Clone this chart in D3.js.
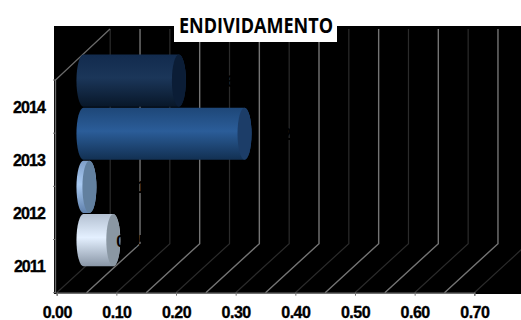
<!DOCTYPE html>
<html>
<head>
<meta charset="utf-8">
<script src="https://cdn.jsdelivr.net/npm/d3@7"></script>
<style>
html, body { margin: 0; padding: 0; background: #fff; }
svg { display: block; }
.tick text { font-family: "Liberation Sans", Arial, sans-serif; font-weight: bold; fill: #000; stroke: #000; stroke-width: 0.35px; }
</style>
</head>
<body>
<svg></svg>
<script>
var years = ["2014", "2013", "2012", "2011"];
var values = [0.16, 0.27, 0.01, 0.05];
var valueTicks = [0, 0.1, 0.2, 0.3, 0.4, 0.5, 0.6, 0.7];
var gridSteps = [0.05, 0.15, 0.25, 0.35, 0.45, 0.55, 0.65];
var title = "ENDIVIDAMENTO";

var width = 521;
var height = 320;
var depthX = 53.5;  // 奥行き
var depthY = 49;
var wallTop = 29;
var capRx = 7;

// 年ごとの円柱の色 [上, 中, 下, 端面]
var barColors = {
    "2014": ["#122b4e", "#1b3659", "#081729", "#0b1d36"],
    "2013": ["#1e4778", "#2b5d99", "#123052", "#1c3d68"],
    "2012": ["#7f9fc8", "#a9caf2", "#5f80ab", "#62809f"],
    "2011": ["#b4c1d2", "#e4f0ff", "#8996a6", "#8a97a3"]
};
// 値ラベルの横ずれ
var labelNudge = [25, 25, 25, 3];

var svg = d3.select("svg").attr("width", width).attr("height", height);

var xScale = d3.scaleLinear().domain([0, 0.7]).range([56.7, 474.3]);
var yScale = d3.scaleBand().domain(years).range([80, 292.7]);
var floorY = yScale.range()[1];

// 背景
svg.append("rect")
    .attr("x", 54).attr("y", 26)
    .attr("width", width - 54).attr("height", 268)
    .attr("fill", "#000");

// 目盛線（床と奥の壁）
function gridLine(v, color, w) {
    var x0 = xScale(v);
    svg.append("path")
        .attr("d", d3.line()([[x0, floorY], [x0 + depthX, floorY - depthY], [x0 + depthX, wallTop]]))
        .attr("fill", "none")
        .attr("stroke", color)
        .attr("stroke-width", w);
}
valueTicks.forEach(function(v) { gridLine(v, "#2b2b2b", 1.2); });
gridSteps.forEach(function(v) { gridLine(v, "#747474", 1.4); });

// 左の壁
svg.append("path")
    .attr("d", d3.line()([[55.5, floorY], [55.5, yScale.range()[0]], [55.5 + depthX + 1, wallTop]]))
    .attr("fill", "none")
    .attr("stroke", "#6a6a6a")
    .attr("stroke-width", 1.3);

// グラデーション
var defs = svg.append("defs");
years.forEach(function(year) {
    var c = barColors[year];
    var grad = defs.append("linearGradient")
        .attr("id", "bar" + year)
        .attr("x1", 0).attr("y1", 0).attr("x2", 0).attr("y2", 1);
    grad.append("stop").attr("offset", "0%").attr("stop-color", c[0]);
    grad.append("stop").attr("offset", "45%").attr("stop-color", c[1]);
    grad.append("stop").attr("offset", "100%").attr("stop-color", c[2]);
});

// 円柱
var bars = svg.append("g")
    .attr("transform", "translate(" + (depthX / 2) + "," + (-depthY / 2 - 1) + ")");

years.forEach(function(year, i) {
    var x0 = xScale(0);
    var x1 = xScale(values[i]);
    var top = yScale(year);
    var bottom = top + yScale.bandwidth() - 1;
    var ry = (bottom - top) / 2;

    bars.append("path")
        .attr("d", "M" + x0 + "," + top +
            "A" + capRx + "," + ry + " 0 0 0 " + x0 + "," + bottom +
            "L" + x1 + "," + bottom +
            "A" + capRx + "," + ry + " 0 0 0 " + x1 + "," + top + "Z")
        .attr("fill", "url(#bar" + year + ")");

    bars.append("ellipse")
        .attr("cx", x1)
        .attr("cy", (top + bottom) / 2)
        .attr("rx", capRx)
        .attr("ry", ry)
        .attr("fill", barColors[year][3]);
});

// 値ラベル（背景と同じ黒）
years.forEach(function(year, i) {
    svg.append("text")
        .attr("x", xScale(0) + depthX / 2 + xScale(values[i]) - xScale(0) + labelNudge[i])
        .attr("y", yScale(year) + yScale.bandwidth() / 2 - depthY / 2 + 5)
        .attr("font-family", "Liberation Sans, Arial, sans-serif")
        .attr("font-weight", "bold")
        .attr("font-size", 16)
        .attr("fill", "#000")
        .text(values[i].toFixed(2));
});

// 軸
var xAxis = svg.append("g")
    .attr("transform", "translate(0," + floorY + ")")
    .call(d3.axisBottom(xScale)
        .tickValues(valueTicks)
        .tickSizeOuter(0)
        .tickSize(3)
        .tickPadding(11)
        .tickFormat(d3.format(".2f")));
xAxis.select(".domain").attr("stroke", "#6f6f6f").attr("stroke-width", 1.4);
xAxis.selectAll("line").attr("stroke", "#777");
xAxis.selectAll("text")
    .attr("font-size", 16)
    .attr("font-family", null)
    .style("letter-spacing", "-0.5px");

var yAxis = svg.append("g")
    .attr("transform", "translate(45,1)")
    .call(d3.axisLeft(yScale).tickSize(0).tickPadding(0));
yAxis.select(".domain").remove();
yAxis.selectAll("text")
    .attr("font-size", 16)
    .attr("font-family", null)
    .style("letter-spacing", "-0.9px");

// 左の目盛
svg.append("g").selectAll("line")
    .data(years.map(function(d) { return yScale(d); }).concat([floorY]))
    .enter()
    .append("line")
    .attr("x1", 53).attr("x2", 56)
    .attr("y1", function(d) { return d; })
    .attr("y2", function(d) { return d; })
    .attr("stroke", "#777");

// タイトル
svg.append("rect")
    .attr("x", 174).attr("y", 15)
    .attr("width", 163).attr("height", 27)
    .attr("fill", "#fff");
svg.append("text")
    .attr("x", 179)
    .attr("y", 33)
    .attr("font-family", "Open Sans, sans-serif")
    .attr("font-weight", "bold")
    .attr("font-size", 21)
    .attr("textLength", 154)
    .attr("lengthAdjust", "spacingAndGlyphs")
    .attr("fill", "#000")
    .text(title);
</script>
</body>
</html>
